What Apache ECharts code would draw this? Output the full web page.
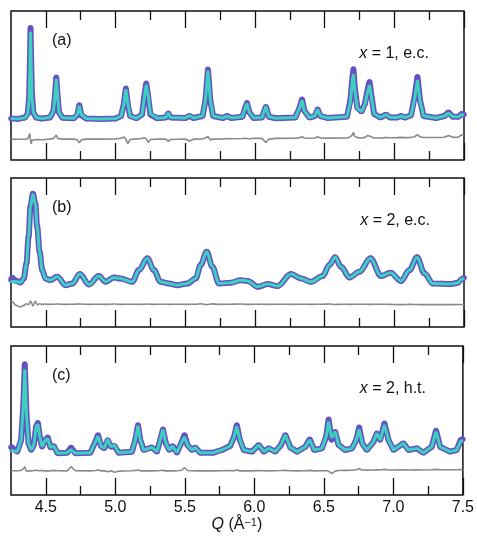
<!DOCTYPE html>
<html>
<head>
  <meta charset="utf-8" />
  <title>ECharts</title>
  <script src="https://cdn.jsdelivr.net/npm/echarts@6.0.0/dist/echarts.min.js"></script>
  <style>
    body { margin: 0; background: #fff; }
  </style>
</head>
<body>
  <div id="main" style="width:477px;height:539px;"></div>
  <script type="text/javascript">
    // panel (a): x = 1, e.c.
    var qA = [4.25, 4.30, 4.35, 4.37, 4.38, 4.385, 4.39, 4.395, 4.40, 4.41, 4.43, 4.47, 4.53, 4.555, 4.565, 4.575, 4.585, 4.595, 4.62, 4.70,
      4.725, 4.74, 4.755, 4.79, 4.90, 5.00, 5.04, 5.06, 5.074, 5.088, 5.105, 5.15, 5.19, 5.205, 5.22, 5.235, 5.25, 5.30, 5.36, 5.379,
      5.395, 5.50, 5.53, 5.56, 5.625, 5.645, 5.663, 5.68, 5.70, 5.77, 5.80, 5.83, 5.91, 5.93, 5.943, 5.96, 5.99, 6.05, 6.079, 6.10,
      6.15, 6.29, 6.32, 6.338, 6.355, 6.39, 6.43, 6.45, 6.47, 6.52, 6.66, 6.685, 6.70, 6.707, 6.715, 6.735, 6.765, 6.79, 6.81, 6.822,
      6.835, 6.855, 6.90, 6.941, 6.97, 7.02, 7.048, 7.08, 7.12, 7.145, 7.166, 7.185, 7.21, 7.30, 7.36, 7.389, 7.42, 7.46, 7.485, 7.50];
    var obsA = [27.8, 27.6, 28.5, 31.0, 42.0, 62.0, 88.8, 66.0, 45.0, 32.0, 28.5, 27.8, 28.5, 33.0, 43.0, 55.5, 42.0, 32.0, 28.3, 28.0,
      30.0, 36.9, 30.0, 27.8, 27.6, 27.8, 29.5, 38.0, 48.1, 37.0, 29.5, 28.0, 30.5, 42.0, 51.5, 42.0, 30.5, 28.0, 28.5, 31.3,
      28.5, 28.2, 29.5, 28.2, 29.5, 40.0, 60.9, 40.0, 29.5, 28.2, 29.5, 28.2, 29.0, 35.0, 38.5, 32.0, 28.2, 28.5, 35.8, 29.0,
      28.0, 28.5, 35.0, 40.7, 33.0, 28.5, 29.5, 34.0, 29.5, 28.2, 29.0, 40.0, 56.0, 61.0, 50.0, 35.0, 32.5, 38.0, 48.0, 52.5,
      44.0, 31.0, 28.5, 30.5, 28.5, 28.5, 29.5, 28.5, 30.0, 42.0, 55.9, 40.0, 29.5, 28.2, 29.5, 32.0, 29.0, 29.0, 31.0, 30.5];
    var calcA = [27.8, 27.6, 28.3, 30.5, 40.0, 60.0, 86.0, 63.0, 43.0, 32.0, 28.5, 27.8, 28.5, 33.0, 42.0, 54.5, 42.0, 32.0, 28.3, 28.0,
      30.5, 36.5, 30.5, 27.8, 27.6, 27.8, 29.5, 37.5, 47.5, 38.0, 29.5, 28.0, 30.5, 41.0, 50.5, 43.0, 31.0, 28.0, 28.5, 31.5,
      28.5, 28.2, 29.8, 28.2, 29.5, 40.0, 60.0, 40.5, 29.5, 28.2, 29.5, 28.2, 29.0, 35.0, 38.0, 32.0, 28.2, 28.5, 36.0, 29.0,
      28.0, 28.5, 35.0, 40.0, 33.0, 28.5, 29.5, 34.0, 29.5, 28.2, 29.0, 39.0, 54.0, 57.7, 48.0, 34.5, 32.5, 37.5, 46.5, 50.3,
      43.0, 31.0, 28.5, 30.5, 28.5, 28.5, 29.5, 28.5, 30.0, 41.0, 53.7, 39.5, 29.5, 28.2, 29.5, 31.5, 29.0, 29.0, 30.5, 30.0];
    var diffA = [14.0, 13.9, 14.0, 14.3, 15.0, 17.8, 13.0, 10.8, 13.2, 14.0, 13.8, 13.6, 14.0, 14.5, 15.5, 16.8, 14.5, 13.8, 14.0, 14.0,
      13.5, 11.6, 13.5, 14.0, 14.0, 14.2, 14.6, 15.5, 14.0, 10.8, 13.8, 14.2, 14.4, 15.0, 14.3, 11.8, 13.8, 14.0, 14.0, 12.5,
      13.8, 14.1, 12.8, 14.0, 14.2, 14.8, 15.8, 13.5, 14.0, 14.2, 14.4, 14.3, 14.4, 14.6, 14.0, 14.3, 14.5, 14.5, 11.8, 14.0,
      14.5, 14.6, 15.0, 15.6, 14.8, 14.6, 14.8, 15.6, 14.8, 14.7, 14.8, 15.6, 17.0, 18.6, 16.0, 15.0, 14.8, 15.2, 16.5, 17.5,
      15.6, 14.8, 14.8, 15.0, 14.9, 15.0, 15.2, 15.0, 15.1, 15.6, 17.0, 15.5, 15.1, 15.1, 15.3, 16.5, 15.2, 15.3, 17.0, 16.5];

    // panel (b): x = 2, e.c.
    var qB = [4.25, 4.259, 4.285, 4.318, 4.342, 4.361, 4.376, 4.39, 4.407, 4.424, 4.438, 4.455, 4.474, 4.498, 4.529, 4.582, 4.641, 4.69, 4.744, 4.809,
      4.88, 4.929, 4.988, 5.036, 5.12, 5.168, 5.228, 5.275, 5.323, 5.383, 5.443, 5.515, 5.575, 5.611, 5.654, 5.695, 5.742, 5.826, 5.898, 5.948,
      6.02, 6.092, 6.163, 6.259, 6.331, 6.402, 6.486, 6.534, 6.575, 6.618, 6.678, 6.75, 6.829, 6.905, 6.973, 7.048, 7.109, 7.163, 7.216, 7.276,
      7.407, 7.455, 7.484, 7.50];
    var obsB = [31.5, 33.0, 31.0, 29.9, 32.6, 42.7, 60.6, 80.9, 89.4, 83.1, 67.4, 50.5, 38.2, 32.6, 31.4, 33.7, 28.1, 29.2, 35.5, 28.5,
      34.2, 30.3, 33.2, 32.6, 30.3, 38.2, 46.1, 38.2, 30.3, 29.2, 28.1, 29.2, 32.6, 41.6, 50.5, 40.4, 29.2, 29.7, 31.4, 30.9,
      27.0, 28.8, 27.5, 35.5, 32.6, 30.3, 34.2, 41.6, 46.8, 40.4, 33.2, 37.1, 46.1, 34.2, 36.4, 30.9, 38.2, 46.8, 36.0, 29.2,
      28.8, 29.7, 32.0, 33.0];
    var calcB = [29.8, 30.5, 30.5, 29.9, 32.6, 42.7, 60.6, 80.9, 89.0, 83.1, 67.4, 50.5, 38.2, 32.6, 31.4, 33.7, 28.1, 29.2, 35.5, 28.5,
      34.2, 30.3, 33.2, 32.6, 30.3, 38.2, 46.1, 38.2, 30.3, 29.2, 28.1, 29.2, 32.6, 41.6, 50.5, 40.4, 29.2, 29.7, 31.4, 30.9,
      27.0, 28.8, 27.5, 35.5, 32.6, 30.3, 34.2, 41.6, 46.8, 40.4, 33.2, 37.1, 46.1, 34.2, 36.4, 30.9, 38.2, 46.8, 36.0, 29.2,
      28.8, 29.7, 32.0, 33.0];
    var diffB = [17.5, 17.0, 14.6, 13.4, 14.5, 15.6, 15.0, 17.5, 14.2, 17.2, 15.0, 15.6, 15.2, 15.4, 15.2, 15.4, 15.2, 15.3, 15.4, 15.2,
      15.3, 15.2, 15.4, 15.2, 15.3, 15.2, 15.4, 15.2, 15.3, 15.2, 15.3, 15.2, 15.3, 15.6, 15.0, 15.5, 15.2, 15.3, 15.4, 15.2,
      15.3, 15.2, 15.3, 15.2, 15.3, 15.2, 15.3, 15.4, 15.1, 15.3, 15.2, 15.3, 15.2, 15.3, 15.2, 15.0, 15.2, 15.1, 15.0, 15.1,
      15.0, 15.1, 15.1, 15.1];

    // panel (c): x = 2, h.t.
    var qC = [4.25, 4.259, 4.295, 4.323, 4.338, 4.349, 4.361, 4.376, 4.395, 4.414, 4.431, 4.443, 4.457, 4.474, 4.498, 4.514, 4.534, 4.557, 4.586, 4.654,
      4.682, 4.713, 4.821, 4.857, 4.876, 4.898, 4.921, 4.945, 4.969, 4.995, 5.024, 5.12, 5.144, 5.163, 5.18, 5.204, 5.264, 5.30, 5.323, 5.343,
      5.364, 5.388, 5.412, 5.443, 5.479, 5.498, 5.519, 5.551, 5.575, 5.611, 5.706, 5.766, 5.826, 5.855, 5.874, 5.896, 5.924, 5.984, 6.032, 6.068,
      6.104, 6.151, 6.192, 6.223, 6.259, 6.307, 6.367, 6.398, 6.431, 6.486, 6.517, 6.534, 6.556, 6.582, 6.606, 6.654, 6.702, 6.733, 6.754, 6.776,
      6.809, 6.857, 6.881, 6.905, 6.936, 6.965, 7.001, 7.073, 7.109, 7.168, 7.216, 7.276, 7.307, 7.336, 7.407, 7.455, 7.484, 7.50];
    var obsC = [32.0, 32.0, 29.1, 36.9, 59.3, 87.9, 54.8, 34.7, 30.2, 33.6, 45.9, 48.5, 39.1, 32.4, 36.9, 38.7, 31.9, 32.9, 28.0, 28.4,
      31.9, 28.0, 28.4, 35.7, 40.3, 32.9, 31.3, 36.9, 32.4, 32.9, 28.4, 29.1, 36.9, 47.0, 36.9, 30.2, 31.9, 29.1, 36.9, 44.1,
      34.7, 30.2, 32.9, 28.4, 35.7, 40.3, 33.6, 30.2, 31.9, 28.4, 28.4, 30.2, 32.9, 39.1, 47.0, 36.9, 30.2, 29.1, 33.6, 29.1,
      31.3, 29.1, 33.6, 40.3, 31.9, 29.1, 32.4, 37.4, 30.2, 31.3, 39.1, 50.8, 36.9, 42.5, 33.6, 30.2, 31.3, 36.9, 45.4, 34.7,
      30.2, 35.7, 41.4, 36.9, 48.1, 36.9, 30.2, 34.7, 30.2, 31.3, 28.4, 32.4, 43.3, 32.4, 29.1, 30.2, 36.9, 37.5];
    var calcC = [30.0, 30.5, 29.1, 36.9, 59.3, 84.3, 54.8, 34.7, 30.2, 33.6, 45.9, 47.5, 39.1, 32.4, 36.9, 38.0, 31.9, 32.9, 28.0, 28.4,
      30.5, 28.0, 28.4, 35.7, 39.5, 32.9, 31.3, 37.5, 32.4, 33.5, 28.4, 29.1, 36.9, 46.5, 36.9, 30.2, 31.9, 29.1, 36.9, 44.1,
      34.7, 30.2, 32.9, 28.4, 35.7, 39.0, 33.6, 30.2, 31.9, 28.4, 28.4, 30.2, 32.9, 39.1, 46.0, 36.9, 30.2, 29.1, 33.6, 29.1,
      31.3, 29.1, 33.6, 40.3, 31.9, 29.1, 32.4, 37.0, 30.2, 31.3, 39.1, 49.2, 38.5, 42.5, 33.6, 30.2, 31.3, 36.9, 44.0, 34.7,
      30.2, 35.7, 41.4, 36.9, 47.0, 36.9, 30.2, 34.7, 30.2, 31.3, 28.4, 32.4, 42.5, 32.4, 29.1, 30.2, 36.0, 36.5];
    var diffC = [16.3, 16.2, 16.3, 16.5, 17.5, 19.0, 16.0, 16.3, 16.2, 16.4, 16.6, 16.0, 16.3, 16.4, 16.2, 16.0, 16.3, 16.5, 16.3, 16.2,
      19.0, 16.3, 16.2, 16.4, 16.8, 16.2, 16.3, 15.6, 16.2, 15.2, 16.0, 16.3, 16.5, 16.8, 16.2, 16.3, 16.2, 16.3, 16.4, 16.5,
      16.2, 16.3, 16.2, 16.3, 16.6, 18.5, 16.4, 16.3, 16.2, 16.3, 16.2, 16.3, 16.4, 16.3, 16.8, 16.2, 16.3, 16.2, 16.4, 16.3,
      16.2, 16.3, 16.4, 16.5, 16.3, 16.2, 16.3, 16.5, 16.2, 16.3, 16.4, 16.0, 14.4, 16.0, 16.4, 16.5, 16.6, 17.0, 17.7, 16.8,
      16.7, 16.8, 16.9, 16.8, 17.2, 16.8, 16.8, 16.9, 16.8, 16.9, 16.8, 16.9, 17.2, 16.9, 16.9, 16.9, 17.0, 16.9];

    var majorTicks = [4.5, 5.0, 5.5, 6.0, 6.5, 7.0, 7.5];
    var minorTicks = [4.75, 5.25, 5.75, 6.25, 6.75, 7.25];
    var panelNames = ['(a)', '(b)', '(c)'];
    var sampleNames = ['1, e.c.', '2, e.c.', '2, h.t.'];

    var panels = [
      { q: qA, obs: obsA, calc: calcA, diff: diffA, smooth: false },
      { q: qB, obs: obsB, calc: calcB, diff: diffB, smooth: 0.35 },
      { q: qC, obs: obsC, calc: calcC, diff: diffC, smooth: false }
    ];

    var font = "'Liberation Sans', Arial, sans-serif";
    var ink = '#111', purple = '#6552c2', teal = '#3dd0bf', grey = '#8a8a8a';
    var tops = [11, 178, 346];

    function pairs(q, v) {
      return q.map(function (x, i) { return [x, v[i]]; });
    }

    var myChart = echarts.init(document.getElementById('main'));

    var grids = [], xAxes = [], yAxes = [], series = [], titles = [];

    panels.forEach(function (p, i) {
      grids.push({
        left: 11, right: 13, top: tops[i], height: 149,
        show: true, borderColor: ink, borderWidth: 1.5, backgroundColor: 'transparent'
      });

      function axis(pos, ticks, len, withLabels) {
        var a = {
          type: 'value', gridIndex: i, position: pos,
          min: 4.25, max: 7.5, interval: 0.25,
          axisLine: { show: false, onZero: false },
          splitLine: { show: false },
          axisTick: { show: true, inside: true, length: len, customValues: ticks, lineStyle: { color: ink, width: 1.3 } },
          axisLabel: { show: false }
        };
        if (withLabels) {
          a.axisLabel = {
            show: true, customValues: majorTicks, margin: 5,
            color: ink, fontSize: 16, fontFamily: font,
            formatter: function (v) { return v.toFixed(1); }
          };
          a.name = '{i|Q} (Å{s|−1})';
          a.nameLocation = 'middle';
          a.nameGap = 22;
          a.nameTextStyle = {
            color: ink, fontSize: 16, fontFamily: font,
            rich: {
              i: { fontStyle: 'italic', fontSize: 16, fontFamily: font, color: ink },
              s: { fontSize: 11, fontFamily: font, color: ink, verticalAlign: 'top' }
            }
          };
        }
        return a;
      }

      xAxes.push(axis('bottom', majorTicks, 17, i === 2));
      xAxes.push(axis('top', majorTicks, 17, false));
      xAxes.push(axis('bottom', minorTicks, 9, false));
      xAxes.push(axis('top', minorTicks, 9, false));

      yAxes.push({ type: 'value', gridIndex: i, min: 0, max: 100, show: false });

      series.push({
        type: 'line', xAxisIndex: 4 * i, yAxisIndex: i, data: pairs(p.q, p.obs),
        symbol: 'circle', symbolSize: 5.5, showAllSymbol: true,
        smooth: p.smooth, smoothMonotone: 'x',
        itemStyle: { color: purple }, lineStyle: { color: purple, width: 6 }, z: 2
      });
      series.push({
        type: 'line', xAxisIndex: 4 * i, yAxisIndex: i, data: pairs(p.q, p.calc),
        showSymbol: false, smooth: p.smooth, smoothMonotone: 'x',
        lineStyle: { color: teal, width: 3 }, z: 3
      });
      series.push({
        type: 'line', xAxisIndex: 4 * i, yAxisIndex: i, data: pairs(p.q, p.diff),
        showSymbol: false, smooth: p.smooth, smoothMonotone: 'x',
        lineStyle: { color: grey, width: 1.6 }, z: 2
      });

      titles.push({
        text: panelNames[i], left: 52, top: tops[i] + 22, padding: 0,
        textStyle: { color: ink, fontSize: 16, fontWeight: 'normal', fontFamily: font }
      });
      titles.push({
        text: '{i|x} = ' + sampleNames[i], right: [48, 47, 51][i], top: tops[i] + 35, padding: 0,
        textStyle: {
          color: ink, fontSize: 16, fontWeight: 'normal', fontFamily: font,
          rich: { i: { fontStyle: 'italic', fontSize: 16, fontFamily: font, color: ink } }
        }
      });
    });

    var option = {
      animation: false,
      backgroundColor: '#fff',
      title: titles,
      grid: grids,
      xAxis: xAxes,
      yAxis: yAxes,
      series: series
    };

    myChart.setOption(option);
  </script>
</body>
</html>
